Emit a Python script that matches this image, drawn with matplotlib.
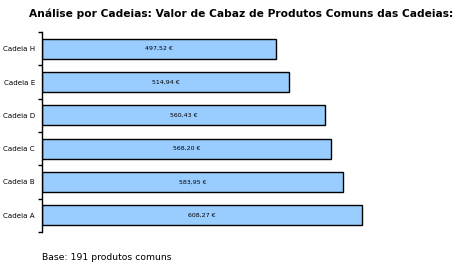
import matplotlib.pyplot as plt

# Data
cadeias = ['Cadeia A', 'Cadeia B', 'Cadeia C', 'Cadeia D', 'Cadeia E', 'Cadeia H']
valores = [608.27, 583.95, 568.20, 560.43, 514.94, 497.52]
rotulos = ['608,27 €', '583,95 €', '568,20 €', '560,43 €', '514,94 €', '497,52 €']

W, H = 457, 269
fig = plt.figure(figsize=(W / 100, H / 100), dpi=100)
ax = fig.add_axes([42 / W, 1 - 232 / H, 398 / W, 200 / H])

XMIN, XMAX = 196, 709
ypos = list(range(len(cadeias)))
ax.barh(ypos, [v - XMIN for v in valores], left=XMIN, height=0.6,
        color='#99CCFF', edgecolor='black', linewidth=1)

for y, v, r in zip(ypos, valores, rotulos):
    ax.text((XMIN + v) / 2, y, r, ha='center', va='center', fontsize=4.5)

ax.set_xlim(XMIN, XMAX)
ax.set_ylim(-0.5, 5.5)

# category labels at centres, tick marks at boundaries (Excel style)
ax.set_yticks(ypos)
ax.set_yticklabels(cadeias, fontsize=5.1)
ax.tick_params(axis='y', which='major', length=0, pad=5)
ax.set_yticks([i - 0.5 for i in range(len(cadeias) + 1)], minor=True)
ax.tick_params(axis='y', which='minor', length=3, width=1, direction='out')
ax.set_xticks([])

for s in ['top', 'right', 'bottom']:
    ax.spines[s].set_visible(False)
ax.spines['left'].set_linewidth(1)

fig.text(241 / W, 1 - 14 / H, 'Análise por Cadeias: Valor de Cabaz de Produtos Comuns das Cadeias:',
         ha='center', va='center', fontsize=7.7, fontweight='bold')
fig.text(42 / W, 1 - 258 / H, 'Base: 191 produtos comuns', ha='left', va='center', fontsize=6.7)

fig.savefig('out.png', dpi=100)
